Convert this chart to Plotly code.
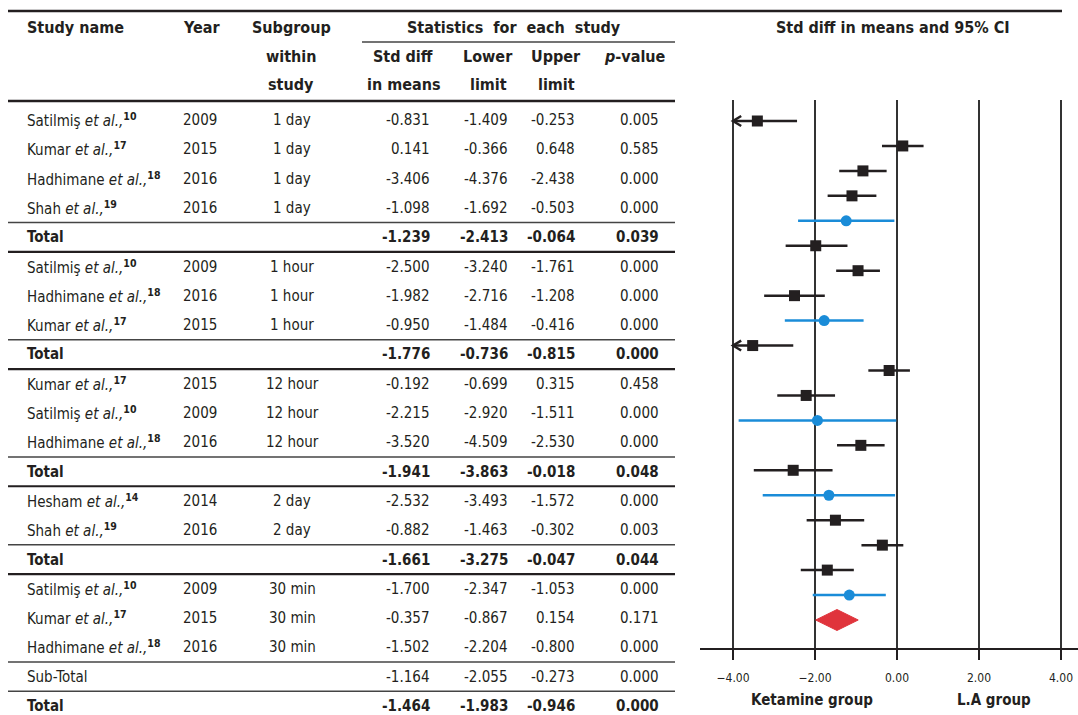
import plotly.graph_objects as go

W, H = 1078, 715
FONT = "Liberation Sans Narrow, Arial Narrow, DejaVu Sans Condensed, sans-serif"
INK = "#231f20"
BLUE = "#1a8cd8"
RED = "#e0343c"

# ---------------- table data ----------------
study_names = ["Satilmiş", "Kumar", "Hadhimane", "Shah", "Total",
               "Satilmiş", "Hadhimane", "Kumar", "Total",
               "Kumar", "Satilmiş", "Hadhimane", "Total",
               "Hesham", "Shah", "Total",
               "Satilmiş", "Kumar", "Hadhimane", "Sub-Total", "Total"]
refs = ["10", "17", "18", "19", "",
        "10", "18", "17", "",
        "17", "10", "18", "",
        "14", "19", "",
        "10", "17", "18", "", ""]
years = ["2009", "2015", "2016", "2016", "",
         "2009", "2016", "2015", "",
         "2015", "2009", "2016", "",
         "2014", "2016", "",
         "2009", "2015", "2016", "", ""]
subgroups = ["1 day", "1 day", "1 day", "1 day", "",
             "1 hour", "1 hour", "1 hour", "",
             "12 hour", "12 hour", "12 hour", "",
             "2 day", "2 day", "",
             "30 min", "30 min", "30 min", "", ""]
std_diff = ["-0.831", "0.141", "-3.406", "-1.098", "-1.239",
            "-2.500", "-1.982", "-0.950", "-1.776",
            "-0.192", "-2.215", "-3.520", "-1.941",
            "-2.532", "-0.882", "-1.661",
            "-1.700", "-0.357", "-1.502", "-1.164", "-1.464"]
lower_lim = ["-1.409", "-0.366", "-4.376", "-1.692", "-2.413",
             "-3.240", "-2.716", "-1.484", "-0.736",
             "-0.699", "-2.920", "-4.509", "-3.863",
             "-3.493", "-1.463", "-3.275",
             "-2.347", "-0.867", "-2.204", "-2.055", "-1.983"]
upper_lim = ["-0.253", "0.648", "-2.438", "-0.503", "-0.064",
             "-1.761", "-1.208", "-0.416", "-0.815",
             "0.315", "-1.511", "-2.530", "-0.018",
             "-1.572", "-0.302", "-0.047",
             "-1.053", "0.154", "-0.800", "-0.273", "-0.946"]
p_values = ["0.005", "0.585", "0.000", "0.000", "0.039",
            "0.000", "0.000", "0.000", "0.000",
            "0.458", "0.000", "0.000", "0.048",
            "0.000", "0.003", "0.044",
            "0.000", "0.171", "0.000", "0.000", "0.000"]
bold_rows = [4, 8, 12, 15, 20]

# ---------------- forest plot data (plot order) ----------------
plot_est = [-3.406, 0.141, -0.831, -1.098, -1.239, -1.982, -0.950, -2.500, -1.776,
            -3.520, -0.192, -2.215, -1.941, -0.882, -2.532, -1.661,
            -1.502, -0.357, -1.700, -1.164, -1.464]
plot_lo = [-4.376, -0.366, -1.409, -1.692, -2.413, -2.716, -1.484, -3.240, -2.736,
           -4.509, -0.699, -2.920, -3.863, -1.463, -3.493, -3.275,
           -2.204, -0.867, -2.347, -2.055, -1.983]
plot_hi = [-2.438, 0.648, -0.253, -0.503, -0.064, -1.208, -0.416, -1.761, -0.815,
           -2.530, 0.315, -1.511, -0.018, -0.302, -1.572, -0.047,
           -0.800, 0.154, -1.053, -0.273, -0.946]
plot_kind = ["s", "s", "s", "s", "p", "s", "s", "s", "p",
             "s", "s", "s", "p", "s", "s", "p",
             "s", "s", "s", "p", "o"]
x_ticks = [-4, -2, 0, 2, 4]
x_min_clip = -4

fig = go.Figure()

sx, sy, bx, by = [], [], [], []
chev_x, chev_y = [], []
for i, (e, lo, hi, k) in enumerate(zip(plot_est, plot_lo, plot_hi, plot_kind)):
    if k == "o":
        continue
    lo_c = max(lo, x_min_clip)
    if k == "s":
        sx += [lo_c, hi, None]; sy += [i, i, None]
    else:
        bx += [lo_c, hi, None]; by += [i, i, None]
    if lo < x_min_clip:
        chev_x += [lo_c + 0.2, lo_c, lo_c + 0.2, None]
        chev_y += [i - 0.2, i, i + 0.2, None]

fig.add_trace(go.Scatter(x=sx, y=sy, mode="lines", line=dict(color=INK, width=2.5),
                         hoverinfo="skip", showlegend=False))
fig.add_trace(go.Scatter(x=chev_x, y=chev_y, mode="lines", line=dict(color=INK, width=2.5),
                         hoverinfo="skip", showlegend=False))
fig.add_trace(go.Scatter(x=bx, y=by, mode="lines", line=dict(color=BLUE, width=2.5),
                         hoverinfo="skip", showlegend=False))
fig.add_trace(go.Scatter(
    x=[e for e, k in zip(plot_est, plot_kind) if k == "s"],
    y=[i for i, k in enumerate(plot_kind) if k == "s"],
    mode="markers", marker=dict(symbol="square", size=11, color=INK),
    showlegend=False))
fig.add_trace(go.Scatter(
    x=[e for e, k in zip(plot_est, plot_kind) if k == "p"],
    y=[i for i, k in enumerate(plot_kind) if k == "p"],
    mode="markers", marker=dict(symbol="circle", size=11, color=BLUE),
    showlegend=False))
for i, (e, lo, hi, k) in enumerate(zip(plot_est, plot_lo, plot_hi, plot_kind)):
    if k == "o":
        fig.add_trace(go.Scatter(x=[lo, e, hi, e, lo], y=[i, i - 0.42, i, i + 0.42, i],
                                 mode="lines", fill="toself", fillcolor=RED,
                                 line=dict(color=RED, width=1), showlegend=False))

# ---------------- table text ----------------
def py(p):
    return 1 - p / H

def px(p):
    return p / W

ann = []
def txt(text, x, y, anchor="center", size=15, bold=False):
    if bold:
        text = "<b>" + text + "</b>"
    ann.append(dict(text=text, x=px(x), y=py(y), xref="paper", yref="paper",
                    xanchor=anchor, yanchor="middle", showarrow=False,
                    font=dict(family=FONT, size=size, color=INK)))

# header
txt("Study name", 25, 28, "left", 16, True)
txt("Year", 201, 28, "center", 16, True)
txt("Subgroup", 291, 28, "center", 16, True)
txt("within", 291, 56, "center", 16, True)
txt("study", 291, 84, "center", 16, True)
txt("Statistics  for  each  study", 514, 28, "center", 16, True)
txt("Std diff", 403, 56, "center", 16, True)
txt("in means", 403, 84, "center", 16, True)
txt("Lower", 488, 56, "center", 16, True)
txt("limit", 488, 84, "center", 16, True)
txt("Upper", 556, 56, "center", 16, True)
txt("limit", 556, 84, "center", 16, True)
txt("<i>p</i>-value", 635, 56, "center", 16, True)
txt("Std diff in means and 95% CI", 893, 28, "center", 16, True)

row_y0, row_dy = 120, 29.3
for r in range(len(study_names)):
    y = row_y0 + r * row_dy
    b = r in bold_rows
    name = study_names[r]
    if refs[r]:
        name = name + " <i>et al.,</i><sup><b>" + refs[r] + "</b></sup>"
    txt(name, 25, y, "left", 15, b)
    txt(years[r], 200, y, "center", 15, b)
    txt(subgroups[r], 292, y, "center", 15, b)
    txt(std_diff[r], 432, y, "right", 15, b)
    txt(lower_lim[r], 510, y, "right", 15, b)
    txt(upper_lim[r], 577, y, "right", 15, b)
    txt(p_values[r], 661, y, "right", 15, b)

txt("Ketamine group", 812, 700, "center", 15, True)
txt("L.A group", 994, 700, "center", 15, True)

# ---------------- lines ----------------
shapes = []
def hline(y, x0, x1, w, c=INK):
    shapes.append(dict(type="line", xref="paper", yref="paper", x0=px(x0), x1=px(x1),
                       y0=py(y), y1=py(y), line=dict(color=c, width=w)))

hline(11, 8, 1062, 2.5)
hline(42, 362, 675, 1.5, "#444")
hline(101, 8, 675, 2.5)
for r in [4, 8, 12, 15, 19, 20]:
    hline(row_y0 + r * row_dy - row_dy / 2, 8, 675, 1.5, "#444")
for r in [4, 8, 12, 15]:
    hline(row_y0 + r * row_dy + row_dy / 2, 8, 675, 2.2)

# plot axes: row 0 at 121px, 24.95 px per row; plot area 100..648 px
top_px, bot_px, r0_px, rstep = 100, 648, 121, 24.95
fig.update_layout(
    width=W, height=H, margin=dict(l=0, r=0, t=0, b=0),
    paper_bgcolor="white", plot_bgcolor="white",
    annotations=ann, shapes=shapes,
    xaxis=dict(domain=[700 / W, 1], range=[-4 - 33 / 41, 4 + 17 / 41],
               tickvals=x_ticks, tickformat=".2f", showgrid=True, gridcolor="#333",
               gridwidth=1.5, zeroline=False, showline=True, linecolor=INK, linewidth=2,
               ticks="outside", ticklen=10, tickwidth=1.5, tickcolor=INK,
               ticklabelstandoff=8,
               tickfont=dict(family=FONT, size=12, color=INK), fixedrange=True),
    yaxis=dict(domain=[1 - bot_px / H, 1 - top_px / H],
               range=[(bot_px - r0_px) / rstep, (top_px - r0_px) / rstep],
               showgrid=False, zeroline=False, showticklabels=False, showline=False,
               fixedrange=True),
)

fig.write_html("out.html", config={"displayModeBar": False},
               post_script="document.body.style.margin='0px';document.body.style.overflow='hidden';")
